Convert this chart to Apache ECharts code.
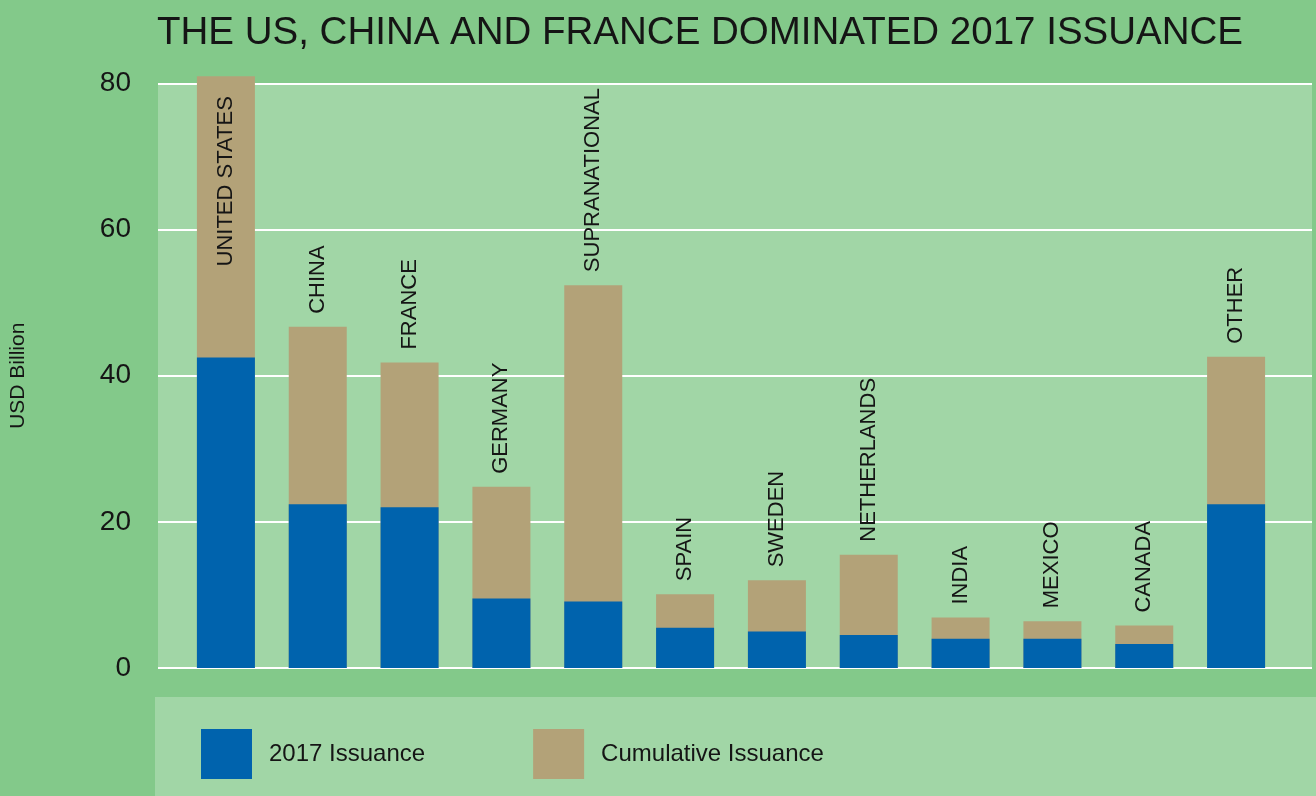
<!DOCTYPE html>
<html>
<head>
<meta charset="utf-8">
<script src="https://cdn.jsdelivr.net/npm/echarts@6/dist/echarts.min.js"></script>
<style>
  html, body { margin: 0; padding: 0; background: #83c98a; }
  #chart-container { width: 1316px; height: 796px; }
</style>
</head>
<body>
<div id="chart-container"></div>
<script>
// values (USD billion)
var countries = ['UNITED STATES', 'CHINA', 'FRANCE', 'GERMANY', 'SUPRANATIONAL', 'SPAIN',
                 'SWEDEN', 'NETHERLANDS', 'INDIA', 'MEXICO', 'CANADA', 'OTHER'];
var issuance2017 = [42.5, 22.4, 22.0, 9.5, 9.1, 5.5, 5.0, 4.5, 4.0, 4.0, 3.3, 22.4];
var cumulative = [81.0, 46.7, 41.8, 24.8, 52.4, 10.1, 12.0, 15.5, 6.9, 6.4, 5.8, 42.6];
var yTicks = [0, 20, 40, 60, 80];

var chartDom = document.getElementById('chart-container');
var myChart = echarts.init(chartDom, null, {renderer: 'canvas'});

var blue = '#0063ad';
var tan = '#b3a278';
var dark = '#151515';

// plot geometry: 0 sits at y=668, 80 at y=83.5
var plotTop = 83.5;
var plotBottom = 128;
var pxPerUnit = (796 - plotBottom - plotTop) / 80;
// the bar grid reaches a bit higher so the US bar can pass the 80 line
var barMax = 82;

// cumulative bars carry the country labels; the tallest one keeps its label inside
var cumulativeData = cumulative.map(function (v, i) {
    if (v > 70) {
        return {
            value: v,
            label: {position: 'insideTop', align: 'right', verticalAlign: 'middle', distance: 20}
        };
    }
    return v;
});

var option = {
    backgroundColor: '#83c98a',
    animation: false,
    title: {
        text: 'THE US, CHINA AND FRANCE DOMINATED 2017 ISSUANCE',
        left: 152,
        top: 9,
        textStyle: {
            fontFamily: '"Liberation Sans", sans-serif',
            fontWeight: 'normal',
            fontSize: 38.5,
            color: dark
        }
    },
    graphic: [
        {
            // legend panel
            type: 'rect',
            left: 155,
            top: 697,
            shape: {width: 1161, height: 99},
            style: {fill: '#a1d6a6'},
            silent: true
        }
    ],
    legend: {
        data: ['2017 Issuance', 'Cumulative Issuance'],
        left: 196,
        top: 724,
        itemWidth: 51,
        itemHeight: 50,
        itemGap: 108,
        icon: 'rect',
        textStyle: {
            fontFamily: '"Liberation Sans", sans-serif',
            fontSize: 24,
            color: dark,
            padding: [0, 0, 0, 12]
        }
    },
    grid: [
        {
            // background panel + gridlines
            left: 155,
            right: 4,
            top: plotTop,
            bottom: plotBottom,
            show: true,
            backgroundColor: '#a1d6a6',
            borderWidth: 0
        },
        {
            // bars
            left: 180,
            right: 34,
            top: plotTop - (barMax - 80) * pxPerUnit,
            bottom: plotBottom
        }
    ],
    xAxis: [
        {gridIndex: 0, type: 'value', show: false, min: 0, max: 1},
        {
            gridIndex: 1,
            type: 'category',
            data: countries,
            show: false
        }
    ],
    yAxis: [
        {
            gridIndex: 0,
            type: 'value',
            min: yTicks[0],
            max: yTicks[yTicks.length - 1],
            interval: 20,
            name: 'USD Billion',
            nameLocation: 'middle',
            nameGap: 129,
            nameTextStyle: {
                fontFamily: '"Liberation Sans", sans-serif',
                fontSize: 21,
                color: dark
            },
            axisLine: {show: false},
            axisTick: {show: false},
            axisLabel: {
                margin: 27,
                fontFamily: '"Liberation Sans", sans-serif',
                fontSize: 28,
                color: dark
            },
            splitLine: {lineStyle: {color: '#ffffff', width: 2}}
        },
        {
            gridIndex: 1,
            type: 'value',
            min: 0,
            max: barMax,
            show: false,
            splitLine: {show: false}
        }
    ],
    series: [
        {
            name: 'Cumulative Issuance',
            type: 'bar',
            xAxisIndex: 1,
            yAxisIndex: 1,
            barWidth: 58,
            itemStyle: {color: tan},
            label: {
                show: true,
                position: 'top',
                distance: 13,
                rotate: 90,
                align: 'left',
                verticalAlign: 'middle',
                formatter: function (p) { return countries[p.dataIndex]; },
                fontFamily: '"Liberation Sans", sans-serif',
                fontSize: 22,
                color: dark
            },
            data: cumulativeData
        },
        {
            name: '2017 Issuance',
            type: 'bar',
            xAxisIndex: 1,
            yAxisIndex: 1,
            barWidth: 58,
            barGap: '-100%',
            itemStyle: {color: blue},
            data: issuance2017
        }
    ]
};

option && myChart.setOption(option);
</script>
</body>
</html>
